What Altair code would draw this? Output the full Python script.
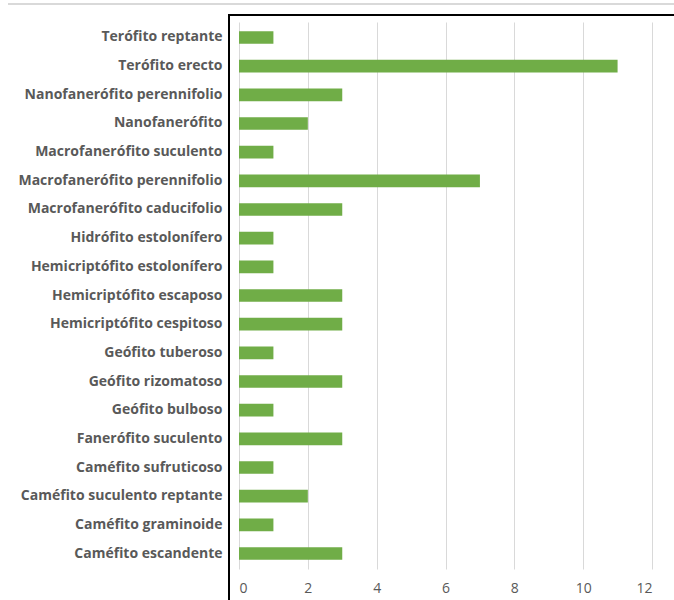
import altair as alt
import pandas as pd

# Life-form categories (top to bottom) and species counts
categories = [
    "Terófito reptante",
    "Terófito erecto",
    "Nanofanerófito perennifolio",
    "Nanofanerófito",
    "Macrofanerófito suculento",
    "Macrofanerófito perennifolio",
    "Macrofanerófito caducifolio",
    "Hidrófito estolonífero",
    "Hemicriptófito estolonífero",
    "Hemicriptófito escaposo",
    "Hemicriptófito cespitoso",
    "Geófito tuberoso",
    "Geófito rizomatoso",
    "Geófito bulboso",
    "Fanerófito suculento",
    "Caméfito sufruticoso",
    "Caméfito suculento reptante",
    "Caméfito graminoide",
    "Caméfito escandente",
]
counts = [1, 11, 3, 2, 1, 7, 3, 1, 1, 3, 3, 1, 3, 1, 3, 1, 2, 1, 3]
x_ticks = [0, 2, 4, 6, 8, 10, 12]

df = pd.DataFrame({"forma": categories, "n": counts})

W, H = 413, 547
LABEL_FONT = "Open Sans"
GREY = "#595959"

bars = alt.Chart(df).mark_bar(color="#70ad47").encode(
    y=alt.Y(
        "forma:N",
        sort=categories,
        scale=alt.Scale(paddingInner=0.56, paddingOuter=0.32),
        axis=alt.Axis(
            title=None,
            domain=False,
            ticks=False,
            grid=False,
            labelFont=LABEL_FONT,
            labelFontWeight="bold",
            labelFontSize=14,
            labelColor=GREY,
            labelPadding=17,
            labelLimit=300,
        ),
    ),
    x=alt.X(
        "n:Q",
        scale=alt.Scale(domain=[0, 12], nice=False),
        axis=alt.Axis(
            title=None,
            values=x_ticks,
            domain=False,
            ticks=False,
            grid=True,
            gridColor="#d9d9d9",
            gridWidth=1,
            labelFont=LABEL_FONT,
            labelFontSize=14,
            labelColor=GREY,
            labelPadding=12,
        ),
    ),
)

# Black frame along the left and top edges of the chart box
frame_left = alt.Chart(df).mark_rule(color="#000000", strokeWidth=2).encode(
    x=alt.value(-10), y=alt.value(-7), y2=alt.value(H + 40)
)
frame_top = alt.Chart(df).mark_rule(color="#000000", strokeWidth=2).encode(
    x=alt.value(-11), x2=alt.value(W + 30), y=alt.value(-7)
)
# Thin grey page rule above the chart
page_rule = alt.Chart(df).mark_rule(color="#d9d9d9", strokeWidth=1.5).encode(
    x=alt.value(-231), x2=alt.value(W + 30), y=alt.value(-18)
)

chart = (
    alt.layer(bars, frame_left, frame_top, page_rule)
    .properties(
        width=W,
        height=H,
        autosize=alt.AutoSizeParams(type="none"),
        padding={"left": 239, "top": 22, "right": 22, "bottom": 31},
        background="white",
    )
    .configure_view(stroke=None)
)

chart.save("out.html", embed_options={"renderer": "svg", "actions": False})
